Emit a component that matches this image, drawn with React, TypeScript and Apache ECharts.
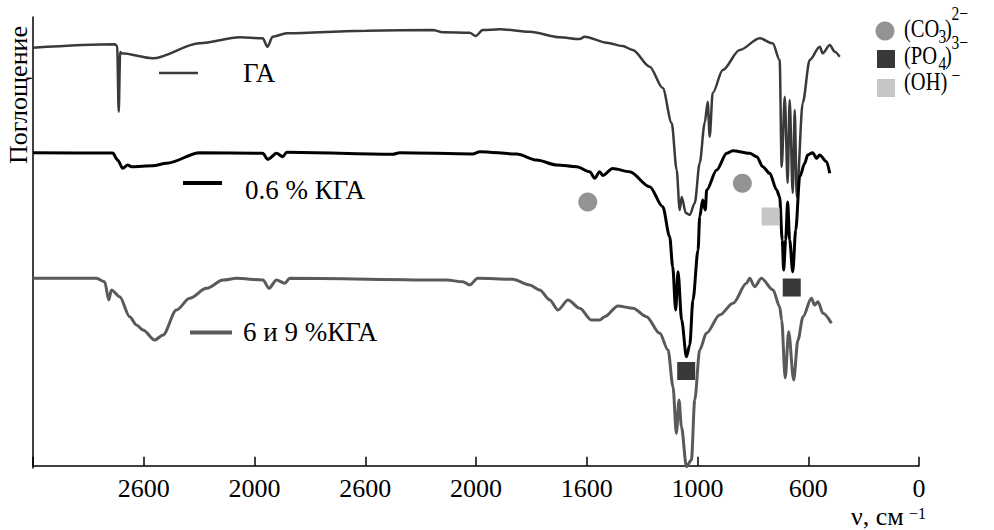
import React, { useEffect, useRef } from "react";
import * as echarts from "echarts";

// x values are positions along the (broken) wavenumber axis, one unit per tick
const tickLabels = ["2600", "2000", "2600", "2000", "1600", "1000", "600", "0"];
const seriesNames = ["ГА", "0.6 % КГА", "6 и 9 %КГА"];

const gaSpectrum: [number, number][] = [
  [0, 93.16], [0.738, 93.92], [0.76, 93.54], [0.774, 78.9], [0.787, 92.2], [0.801, 91.91],
  [1.081, 90.8], [1.505, 94.14], [1.866, 95.48], [2.074, 95.25], [2.117, 93.38], [2.164, 95.61],
  [2.291, 96.37], [3.013, 96.95], [3.609, 97.1], [3.7, 96.59], [3.943, 96.5], [3.997, 95.76],
  [4.061, 97.1], [4.214, 97.26], [4.485, 96.72], [4.756, 95.48], [4.936, 95.1], [4.981, 95.61],
  [5.18, 94.27], [5.324, 93.54], [5.415, 92.65], [5.568, 88.93], [5.686, 84.18], [5.767, 76.38],
  [5.812, 65.91], [5.839, 56.99], [5.857, 59.89], [5.895, 56.3], [5.93, 55.88], [5.975, 58.55],
  [6.02, 67.47], [6.065, 76.38], [6.092, 81.13], [6.11, 73.33], [6.137, 83.06], [6.228, 88.19],
  [6.381, 92.65], [6.562, 95.25], [6.679, 94.14], [6.742, 90.42], [6.76, 66.64], [6.788, 82.24],
  [6.814, 63.01], [6.832, 81.5], [6.86, 60.78], [6.878, 79.28], [6.896, 59.96], [6.95, 80.84],
  [7.013, 90.42], [7.104, 93.38], [7.131, 91.91], [7.194, 93.76], [7.239, 92.27], [7.284, 91.15],
];

const kga06Spectrum: [number, number][] = [
  [0, 69.76], [0.72, 69.69], [0.765, 68.1], [0.81, 66.29], [0.855, 67.02], [0.891, 66.64],
  [1.081, 66.86], [1.207, 67.4], [1.506, 69.76], [2.074, 69.63], [2.119, 68.29], [2.2, 69.63],
  [2.255, 68.87], [2.291, 69.85], [3.248, 69.4], [3.311, 69.76], [3.97, 69.47], [4.034, 69.98],
  [4.368, 69.47], [4.548, 68.13], [4.729, 67.02], [4.909, 66.64], [5.027, 65.53], [5.072, 64.06],
  [5.117, 65.53], [5.144, 64.68], [5.234, 66.24], [5.388, 65.53], [5.568, 62.18], [5.686, 57.73],
  [5.749, 51.04], [5.776, 44.36], [5.803, 34.71], [5.824, 43.24], [5.857, 32.46], [5.9, 24.3],
  [5.93, 26.91], [5.959, 36.94], [6.005, 48.08], [6.02, 55.5], [6.047, 59.22], [6.07, 56.99],
  [6.083, 61.45], [6.173, 65.91], [6.264, 69.63], [6.318, 70.21], [6.471, 69.63], [6.535, 68.87],
  [6.589, 66.64], [6.652, 65.17], [6.715, 61.45], [6.742, 59.89], [6.765, 50.31], [6.778, 43.62],
  [6.796, 50.31], [6.814, 58.78], [6.832, 50.31], [6.86, 43.24], [6.887, 52.54], [6.923, 64.41],
  [6.968, 67.4], [6.995, 69.25], [7.04, 69.76], [7.076, 68.51], [7.103, 69.25], [7.166, 67.76],
  [7.194, 65.17],
];

const kga69Spectrum: [number, number][] = [
  [0, 41.77], [0.572, 41.77], [0.647, 41.01], [0.684, 36.94], [0.708, 39.17], [0.783, 37.67],
  [0.873, 33.22], [0.934, 31.37], [0.993, 30.25], [1.099, 28.02], [1.174, 29.14], [1.295, 34.71],
  [1.415, 37.32], [1.566, 39.54], [1.716, 41.39], [1.837, 41.77], [2.077, 41.39], [2.131, 39.54],
  [2.198, 41.39], [2.273, 40.66], [2.318, 41.77], [3.733, 41.39], [3.88, 41.01], [3.943, 40.28],
  [4.015, 41.77], [4.332, 41.55], [4.485, 40.28], [4.575, 39.17], [4.666, 36.94], [4.74, 34.71],
  [4.831, 36.94], [4.936, 35.09], [5.042, 32.48], [5.117, 32.48], [5.162, 33.22], [5.282, 35.6],
  [5.418, 35.09], [5.539, 33.22], [5.659, 29.52], [5.734, 25.8], [5.779, 17.62], [5.809, 7.23],
  [5.833, 14.65], [5.855, 8.7], [5.9, -0.21], [5.945, 1.28], [5.975, 14.65], [6.02, 25.8],
  [6.08, 29.52], [6.2, 33.59], [6.321, 36.2], [6.442, 40.66], [6.471, 41.77], [6.516, 39.9],
  [6.577, 41.77], [6.682, 39.17], [6.742, 35.44], [6.76, 32.43], [6.792, 19.56], [6.823, 29.87],
  [6.868, 19.11], [6.907, 28.02], [6.953, 33.22], [7.028, 37.32], [7.058, 35.82], [7.088, 36.56],
  [7.133, 33.97], [7.209, 31.75],
];

const co3Marks: [number, number][] = [[5.009, 58.78], [6.405, 62.94]];
const po4Marks: [number, number][] = [[5.898, 21.12], [6.851, 39.72]];
const ohMarks: [number, number][] = [[6.661, 55.54]];

const SERIF = '"Liberation Serif", "Times New Roman", serif';
const curveColors = ["#3a3a3a", "#000000", "#5a5a5a"];
const markColors = { co3: "#939393", po4: "#383838", oh: "#c6c6c6" };

function txt(text: string, x: number, y: number, size: number, extra: any = {}) {
  const { align, ...rest } = extra;
  return {
    type: "text",
    x,
    y,
    silent: true,
    ...rest,
    style: {
      text,
      x: 0,
      y: 0,
      font: `${size}px ${SERIF}`,
      fill: "#000",
      textAlign: align || "left",
      textVerticalAlign: "middle",
      align: align || "left",
      verticalAlign: "middle",
    },
  };
}

export default function App() {
  const ref = useRef<HTMLDivElement>(null);
  useEffect(() => {
    if (!ref.current) return;
    const chart = echarts.init(ref.current, undefined, { renderer: "svg" });
    const lsx = 0.82;
    const lineCommon = { type: "line", showSymbol: false, smooth: 0.3, smoothMonotone: "x" };
    chart.setOption({
      animation: false,
      backgroundColor: "#ffffff",
      grid: { left: 33, right: 75, top: 17, height: 451 },
      xAxis: {
        type: "value",
        min: 0,
        max: 8,
        interval: 1,
        axisLine: { show: true, lineStyle: { color: "#000", width: 1.5 } },
        axisTick: { show: true, inside: true, length: 9, lineStyle: { color: "#000", width: 1.5 } },
        axisLabel: {
          margin: 7,
          fontFamily: SERIF,
          fontSize: 26,
          lineHeight: 26,
          color: "#000",
          formatter: (v: number) => tickLabels[Math.round(v) - 1] ?? "",
        },
        splitLine: { show: false },
      },
      yAxis: {
        type: "value",
        min: -0.5,
        max: 100,
        axisLine: { show: true, lineStyle: { color: "#000", width: 1.5 } },
        axisTick: { show: false },
        axisLabel: { show: false },
        splitLine: { show: false },
      },
      series: [
        { ...lineCommon, name: seriesNames[0], data: gaSpectrum, lineStyle: { color: curveColors[0], width: 2.5 }, z: 2 },
        { ...lineCommon, name: seriesNames[1], data: kga06Spectrum, lineStyle: { color: curveColors[1], width: 3 }, z: 3 },
        { ...lineCommon, name: seriesNames[2], data: kga69Spectrum, lineStyle: { color: curveColors[2], width: 3 }, z: 2 },
        { name: "(CO3)2−", type: "scatter", data: co3Marks, symbol: "circle", symbolSize: 19, itemStyle: { color: markColors.co3, opacity: 1 }, z: 5 },
        { name: "(PO4)3−", type: "scatter", data: po4Marks, symbol: "rect", symbolSize: 18, itemStyle: { color: markColors.po4, opacity: 1 }, z: 5 },
        { name: "(OH)−", type: "scatter", data: ohMarks, symbol: "rect", symbolSize: 18, itemStyle: { color: markColors.oh, opacity: 1 }, z: 5 },
      ],
      graphic: [
        txt("Поглощение", 18, 95, 26, { rotation: Math.PI / 2, align: "center" }),
        // curve labels
        { type: "line", silent: true, shape: { x1: 159, y1: 73, x2: 198, y2: 73 }, style: { stroke: curveColors[0], lineWidth: 2.5 } },
        txt(seriesNames[0], 243, 72.5, 27),
        { type: "line", silent: true, shape: { x1: 183, y1: 183, x2: 222, y2: 183 }, style: { stroke: curveColors[1], lineWidth: 4 } },
        txt(seriesNames[1], 245, 189.5, 27),
        { type: "line", silent: true, shape: { x1: 190, y1: 332.5, x2: 232, y2: 332.5 }, style: { stroke: curveColors[2], lineWidth: 4 } },
        txt(seriesNames[2], 243, 331.5, 27),
        // ion legend
        { type: "circle", silent: true, shape: { cx: 885, cy: 31, r: 9.5 }, style: { fill: markColors.co3 } },
        { type: "rect", silent: true, shape: { x: 877, y: 50, width: 18, height: 18 }, style: { fill: markColors.po4 } },
        { type: "rect", silent: true, shape: { x: 877, y: 79, width: 18, height: 18 }, style: { fill: markColors.oh } },
        txt("(CO", 904, 28.5, 25, { scaleX: lsx }),
        txt("3", 938.5, 36.5, 19, { scaleX: lsx }),
        txt(")", 945, 28.5, 25, { scaleX: lsx }),
        txt("2−", 951.5, 13.5, 19, { scaleX: lsx }),
        txt("(PO", 904, 55.5, 25, { scaleX: lsx }),
        txt("4", 938.5, 63.5, 19, { scaleX: lsx }),
        txt(")", 945, 55.5, 25, { scaleX: lsx }),
        txt("3−", 951.5, 43, 19, { scaleX: lsx }),
        txt("(OH)", 904, 82, 25, { scaleX: lsx }),
        txt("−", 951.5, 76, 19, { scaleX: lsx }),
        // x axis name
        txt("ν, см", 851, 516, 26),
        txt("−1", 909, 513, 16),
      ],
    });
    return () => chart.dispose();
  }, []);
  return (
    <div
      ref={ref}
      style={{ position: "fixed", left: 0, top: 0, width: 994, height: 530, background: "#fff" }}
    />
  );
}
